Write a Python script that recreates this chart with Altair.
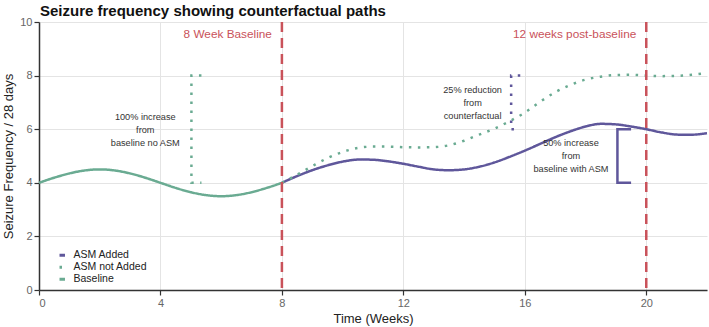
import altair as alt
import pandas as pd

# ---------------- data ----------------
title_text = ["Seizure frequency showing counterfactual paths"]

baseline_x = [0, 0.5, 1, 1.5, 2, 2.5, 3, 3.5, 4, 4.5, 5, 5.5, 6, 6.5, 7, 7.5, 8]
baseline_y = [4.0, 4.19, 4.35, 4.46, 4.5, 4.46, 4.35, 4.19, 4.0, 3.81, 3.65, 3.54, 3.5, 3.54, 3.65, 3.81, 4.0]

added_x = [8, 8.5, 9, 9.5, 10, 10.6, 11, 11.5, 12, 12.5, 13, 13.5, 14, 14.5, 15, 15.5, 16, 16.5, 17, 17.5,
           18, 18.5, 19, 19.5, 20, 20.5, 21, 21.4, 22]
added_y = [4.0, 4.25, 4.47, 4.65, 4.79, 4.87, 4.86, 4.8, 4.71, 4.6, 4.5, 4.47, 4.5, 4.6, 4.76, 4.97, 5.2,
           5.45, 5.7, 5.92, 6.1, 6.2, 6.18, 6.1, 6.0, 5.88, 5.8, 5.79, 5.85]

notadded_x = [8, 8.5, 9, 9.5, 10, 10.5, 11, 11.5, 12, 12.5, 13, 13.5, 14, 14.5, 15, 15.5, 16, 16.5, 17,
              17.5, 18, 18.5, 19, 19.5, 20, 20.5, 21, 21.5, 22]
notadded_y = [4.0, 4.3, 4.62, 4.92, 5.15, 5.3, 5.35, 5.35, 5.33, 5.32, 5.33, 5.4, 5.57, 5.8, 6.02, 6.3,
              6.62, 7.02, 7.38, 7.65, 7.85, 7.96, 8.02, 8.03, 8.0, 7.98, 7.99, 8.03, 8.1]

series_names = ["ASM Added", "ASM not Added", "Baseline"]
series_colors = ["#5f579b", "#6aab92", "#6aab92"]

# annotation brackets
br_noasm_x = [5.35, 5.02, 5.02, 5.35]
br_noasm_y = [8, 8, 4, 4]
br_red_x = [15.85, 15.55, 15.55, 15.85]
br_red_y = [8, 8, 6, 6]
br_inc_x = [19.5, 19.05, 19.05, 19.5]
br_inc_y = [6, 6, 4, 4]

ann_text = [["100% increase", "from", "baseline no ASM"],
            ["25% reduction", "from", "counterfactual"],
            ["50% increase", "from", "baseline with ASM"]]
ann_x = [3.5, 14.28, 17.52]
ann_y = [6.47, 7.46, 5.47]

period_x = [8, 20]
period_label = ["8 Week Baseline", "12 weeks post-baseline"]
period_label_y = [9.54, 9.54]

FONT = "Liberation Sans"
RED = "#c9525a"

# ---------------- tables ----------------
rows = []
for n, xs, ys in [("Baseline", baseline_x, baseline_y),
                  ("ASM Added", added_x, added_y),
                  ("ASM not Added", notadded_x, notadded_y)]:
    for xv, yv in zip(xs, ys):
        rows.append({"series": n, "x": xv, "y": yv})
lines_df = pd.DataFrame(rows)

def bracket(xs, ys):
    return pd.DataFrame({"x": xs, "y": ys, "o": list(range(len(xs)))})

xscale = alt.Scale(domain=[0, 22], nice=False, zero=False)
yscale = alt.Scale(domain=[0, 10], nice=False)

leg = dict(title=None, orient="none", legendX=18, legendY=228,
           symbolType="stroke", symbolSize=30, symbolStrokeWidth=3,
           labelFontSize=10.5, labelFont=FONT, labelColor="#222",
           rowPadding=-3, labelOffset=6)

lines = alt.Chart(lines_df).mark_line(strokeWidth=2.5, interpolate="monotone").encode(
    x=alt.X("x:Q", scale=xscale, title="Time (Weeks)",
            axis=alt.Axis(values=[0, 4, 8, 12, 16, 20])),
    y=alt.Y("y:Q", scale=yscale, title="Seizure Frequency / 28 days",
            axis=alt.Axis(values=[0, 2, 4, 6, 8, 10])),
    color=alt.Color("series:N", scale=alt.Scale(domain=series_names, range=series_colors),
                    legend=alt.Legend(**leg)),
    strokeDash=alt.StrokeDash("series:N", scale=alt.Scale(domain=series_names,
                                                          range=[[1, 0], [2.5, 6.5], [1, 0]]),
                              legend=alt.Legend(**leg)),
    detail="series:N",
)

b1 = alt.Chart(bracket(br_noasm_x, br_noasm_y)).mark_line(
    color="#6aab92", strokeWidth=2.5, strokeDash=[2.5, 6.5]).encode(
    x=alt.X("x:Q", scale=xscale), y=alt.Y("y:Q", scale=yscale), order="o:Q")
b2 = alt.Chart(bracket(br_red_x, br_red_y)).mark_line(
    color="#5f579b", strokeWidth=2.5, strokeDash=[2.5, 6.5]).encode(
    x=alt.X("x:Q", scale=xscale), y=alt.Y("y:Q", scale=yscale), order="o:Q")
b3 = alt.Chart(bracket(br_inc_x, br_inc_y)).mark_line(
    color="#5f579b", strokeWidth=2.5).encode(
    x=alt.X("x:Q", scale=xscale), y=alt.Y("y:Q", scale=yscale), order="o:Q")

ann_df = pd.DataFrame({"x": ann_x, "y": ann_y, "t": ann_text})
ann = alt.Chart(ann_df).mark_text(font=FONT, fontSize=9.2, color="#333", align="center",
                                  baseline="middle", lineHeight=13).encode(
    x=alt.X("x:Q", scale=xscale), y=alt.Y("y:Q", scale=yscale), text="t")

per_df = pd.DataFrame({"x": period_x, "label": period_label, "ly": period_label_y})
rules = alt.Chart(per_df).mark_rule(color=RED, strokeWidth=2.5, strokeDash=[10, 6]).encode(
    x=alt.X("x:Q", scale=xscale))
per_text = alt.Chart(per_df).mark_text(font=FONT, fontSize=11.8, color=RED, align="right",
                                       baseline="middle", dx=-10).encode(
    x=alt.X("x:Q", scale=xscale), y=alt.Y("ly:Q", scale=yscale), text="label")

title_mark = alt.Chart(pd.DataFrame({"t": title_text})).mark_text(
    font=FONT, fontSize=15, fontWeight="bold", color="#111", align="left",
    baseline="alphabetic").encode(x=alt.value(1), y=alt.value(-6), text="t:N")

chart = alt.layer(lines, b1, b2, b3, ann, rules, per_text, title_mark).properties(
    width=668, height=268,
    padding={"left": 39, "top": 22, "right": 2, "bottom": 37},
    autosize=alt.AutoSizeParams(type="none"),
).configure_axis(
    domainColor="#333", domainWidth=1.5, tickColor="#333", tickSize=5, tickWidth=1.2,
    gridColor="#e4e4e4", gridWidth=1, labelFont=FONT, labelFontSize=11, labelColor="#666",
    titleFont=FONT, titleFontSize=13, titleFontWeight="normal", titleColor="#222",
).configure_axisY(titlePadding=4).configure_legend(rowPadding=-3).configure_view(stroke=None)

chart.save("out.html", embed_options={"renderer": "svg", "actions": False})
